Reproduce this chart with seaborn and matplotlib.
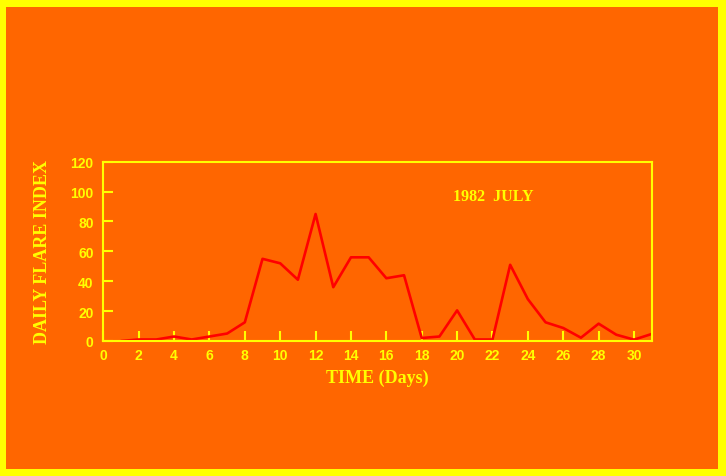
import numpy as np
import pandas as pd
import seaborn as sns
import matplotlib.pyplot as plt
from matplotlib.patches import Rectangle

# daily flare index, July 1982
days = list(range(1, 32))
flare_index = [0, 1, 1, 3, 1, 3, 5, 12.5, 55, 52, 41, 85, 36, 56, 56, 42, 44,
               2, 3, 20.5, 1, 1, 51, 28, 12.5, 8.7, 2.2, 11.6, 4.2, 0.9, 4.7]
x_ticks = list(range(0, 31, 2))
y_ticks = list(range(0, 121, 20))

orange = "#FF6600"
yellow = "#FFFF00"

sns.set_style("white")
plt.rcParams["font.family"] = ["Liberation Sans", "DejaVu Sans"]

df = pd.DataFrame({"day": days, "index": flare_index})

fig = plt.figure(figsize=(7.26, 4.77), dpi=100)
fig.patch.set_facecolor(yellow)
# orange panel inside the yellow frame
fig.patches.append(Rectangle((5.5 / 726, 1 - 470 / 477), 712 / 726, 462 / 477,
                             transform=fig.transFigure, facecolor=orange,
                             edgecolor="none", zorder=-5))

ax = fig.add_axes([103.3 / 726, 1 - 342 / 477, 548.4 / 726, 179.3 / 477])
ax.set_facecolor(orange)
sns.lineplot(data=df, x="day", y="index", color="#FF0000", linewidth=1.9, ax=ax)

ax.set_xlim(0, 31)
ax.set_ylim(0, 120)
ax.set_xticks(x_ticks)
ax.set_yticks(y_ticks)
ax.tick_params(bottom=True, left=True, direction="in", length=7, width=1.5,
               color=yellow, labelcolor=yellow, labelsize=10)
ax.tick_params(axis="x", pad=5)
ax.tick_params(axis="y", pad=7)
for lbl in ax.get_xticklabels() + ax.get_yticklabels():
    lbl.set_fontweight("bold")

for s in ax.spines.values():
    s.set_color(yellow)
    s.set_linewidth(1.5)
    s.set_visible(True)

serif = ["Liberation Serif", "DejaVu Serif"]
ax.set_xlabel("TIME (Days)", family=serif, fontweight="bold", fontsize=13,
              color=yellow, labelpad=5)
ax.set_ylabel("DAILY FLARE INDEX", family=serif, fontweight="bold", fontsize=13,
              color=yellow, labelpad=14)
ax.text(19.75, 97, "1982  JULY", family=serif, fontweight="bold", fontsize=11.5,
        color=yellow, va="center", ha="left")

fig.savefig("out.png", dpi=100, facecolor=fig.get_facecolor())
